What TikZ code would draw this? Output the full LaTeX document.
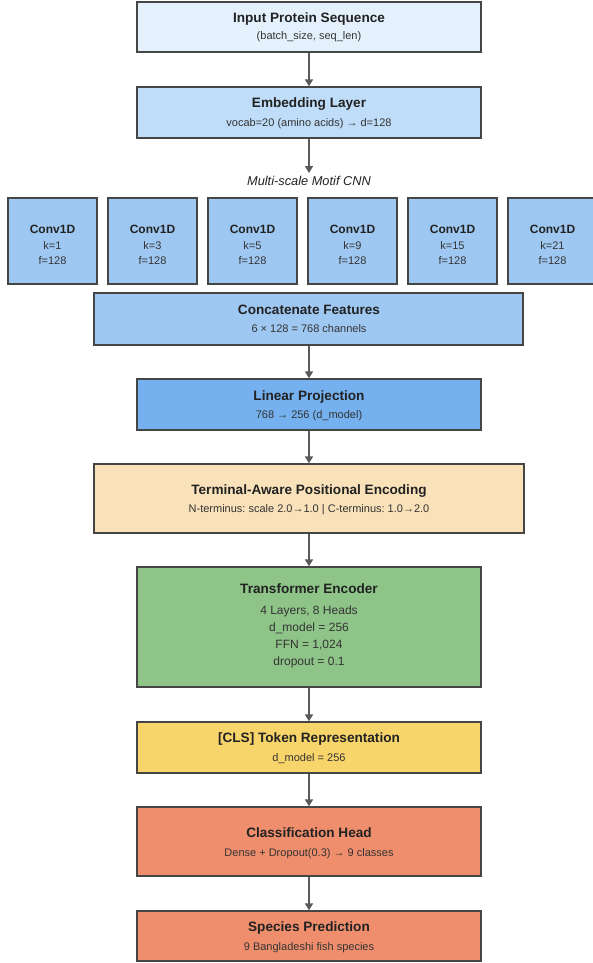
\documentclass[tikz,border=0pt]{standalone}
\usepackage{fontspec}
\setmainfont{Liberation Sans}
\usetikzlibrary{arrows.meta,shadows}
\definecolor{cInput}{HTML}{E4F1FC}
\definecolor{cEmb}{HTML}{BFDDF8}
\definecolor{cConv}{HTML}{9EC8F2}
\definecolor{cLin}{HTML}{74B1EE}
\definecolor{cTerm}{HTML}{F9E1B9}
\definecolor{cTrans}{HTML}{8EC488}
\definecolor{cCls}{HTML}{F7D56A}
\definecolor{cHead}{HTML}{EF8E6D}
\definecolor{cBorder}{HTML}{454545}
\definecolor{cArrow}{HTML}{5A5A5A}
\definecolor{cTitle}{HTML}{222222}
\definecolor{cSub}{HTML}{333333}
\frenchspacing
\begin{document}
\begin{tikzpicture}[x=1pt,y=-1pt,
  box/.style={draw=cBorder, line width=1.3pt, inner sep=0pt, rectangle,
    drop shadow={shadow xshift=1.2pt, shadow yshift=-1.2pt, opacity=0.18}},
  ttl/.style={anchor=base, inner sep=0pt, font=\fontsize{13.6}{16}\selectfont\bfseries, text=cTitle},
  ctl/.style={anchor=base, inner sep=0pt, font=\fontsize{12}{14}\selectfont\bfseries, text=cTitle},
  sub/.style={anchor=base, inner sep=0pt, font=\fontsize{11}{13}\selectfont, text=cSub},
  bsub/.style={anchor=base, inner sep=0pt, font=\fontsize{12}{14}\selectfont, text=cSub},
  arr/.style={draw=cArrow, line width=1.5pt, -{Triangle[length=7pt,width=8pt]}}]
\useasboundingbox (0,0) rectangle (592,963);
\fill[white] (0,0) rectangle (592,963);

% boxes
\node[box, fill=cInput, minimum width=344pt, minimum height=50pt] (inp) at (309,27) {};
\node[box, fill=cEmb, minimum width=344pt, minimum height=51pt] (emb) at (309,112.5) {};
\foreach \i/\k in {0/1,1/3,2/5,3/9,4/15,5/21} {
  \node[box, fill=cConv, minimum width=89pt, minimum height=86pt] (conv\i) at (52.5+100*\i,241) {};
  \node[ctl] (convt\i) at (52.5+100*\i,233) {Conv1D};
  \node[sub] (convk\i) at (52.5+100*\i,249) {k=\k};
  \node[sub] (convf\i) at (52.5+100*\i,264) {f=128};
}
\node[box, fill=cConv, minimum width=429pt, minimum height=52pt] (cat) at (308.5,319) {};
\node[box, fill=cLin, minimum width=344pt, minimum height=51pt] (lin) at (309,404.5) {};
\node[box, fill=cTerm, minimum width=430pt, minimum height=69pt] (term) at (309,498.5) {};
\node[box, fill=cTrans, minimum width=344pt, minimum height=120pt] (trans) at (309,627) {};
\node[box, fill=cCls, minimum width=344pt, minimum height=51pt] (cls) at (309,747.5) {};
\node[box, fill=cHead, minimum width=344pt, minimum height=69pt] (head) at (309,841.5) {};
\node[box, fill=cHead, minimum width=344pt, minimum height=50pt] (spec) at (309,936) {};

% texts
\node[ttl] (inpt) at (309,23) {Input Protein Sequence};
\node[sub] (inps) at (309,40) {(batch\_size, seq\_len)};
\node[ttl] (embt) at (309,108) {Embedding Layer};
\node[sub] (embs) at (309,127) {vocab=20 (amino acids) → d=128};
\node[anchor=base, inner sep=0pt, font=\fontsize{12.8}{15}\selectfont\itshape, text=cTitle] (cnn) at (309,185) {Multi-scale Motif CNN};
\node[ttl] (catt) at (309,314) {Concatenate Features};
\node[sub] (cats) at (309,332) {6 × 128 = 768 channels};
\node[ttl] (lint) at (309,400) {Linear Projection};
\node[sub] (lins) at (309,418) {768 → 256 (d\_model)};
\node[ttl] (termt) at (309,494) {Terminal-Aware Positional Encoding};
\node[sub] (terms) at (309,512) {N-terminus: scale 2.0→1.0 | C-terminus: 1.0→2.0};
\node[ttl] (transt) at (309,593) {Transformer Encoder};
\node[bsub] (trans1) at (309,614) {4 Layers, 8 Heads};
\node[bsub] (trans2) at (309,631) {d\_model = 256};
\node[bsub] (trans3) at (309,648) {FFN = 1,024};
\node[bsub] (trans4) at (309,665) {dropout = 0.1};
\node[ttl] (clst) at (309,742) {[CLS] Token Representation};
\node[sub] (clss) at (309,761) {d\_model = 256};
\node[ttl] (headt) at (309,837) {Classification Head};
\node[sub] (heads) at (309,856) {Dense + Dropout(0.3) → 9 classes};
\node[ttl] (spect) at (309,931) {Species Prediction};
\node[sub] (specs) at (309,950) {9 Bangladeshi fish species};

% arrows
\draw[arr] (inp.south) -- (emb.north);
\draw[arr] (emb.south) -- ([yshift=2.5pt]cnn.north);
\draw[arr] (cat.south -| lin.north) -- (lin.north);
\draw[arr] (lin.south) -- (term.north);
\draw[arr] (term.south) -- (trans.north);
\draw[arr] (trans.south) -- (cls.north);
\draw[arr] (cls.south) -- (head.north);
\draw[arr] (head.south) -- (spec.north);
\end{tikzpicture}
\end{document}
